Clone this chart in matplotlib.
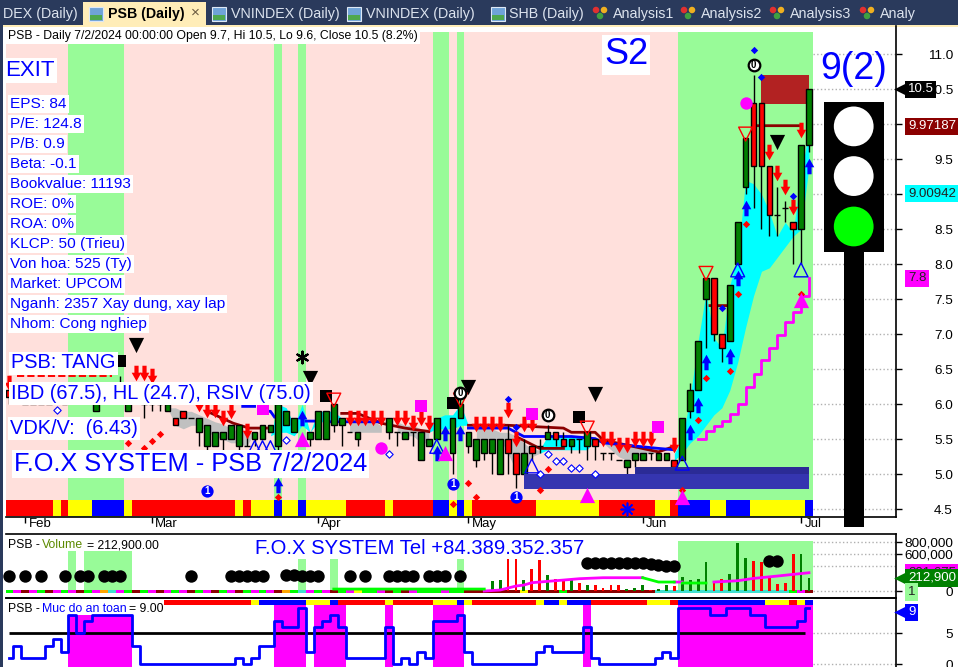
import numpy as np
import matplotlib
matplotlib.use('Agg')
import matplotlib.pyplot as plt
from matplotlib.path import Path
from matplotlib.patches import Rectangle
from matplotlib.transforms import ScaledTranslation

plt.rcParams['font.family'] = ['Liberation Sans', 'DejaVu Sans']

W, H = 958, 667
BLUE = '#0000FF'
MAGENTA = '#FF00FF'
PALEGREEN = '#98FB98'
PINK = '#FFE0DC'
DGREEN = '#008000'
DRED = '#8B0000'

# ---- price candles, one value per trading day (index 0 = Jan 30, 101 = Jul 2)
opens = [6.2,6.1,6.0,6.1,6.0,6.0,6.1,6.0,6.1,6.1,
         6.1,5.9,6.1,6.1,6.1,5.9,6.1,6.0,6.0,6.0,
         5.9,5.8,5.9,5.8,5.6,5.4,5.4,5.5,5.5,5.4,
         5.4,5.5,5.5,5.6,5.4,5.7,5.6,5.8,5.5,5.5,
         5.5,5.7,5.7,5.6,5.5,5.8,5.8,5.8,5.6,5.6,
         5.5,5.6,5.2,5.4,5.5,5.6,5.3,5.8,5.4,5.2,
         5.3,5.3,5.0,5.5,5.3,5.0,5.4,5.4,5.5,5.6,
         5.5,5.4,5.5,5.4,5.5,5.3,5.3,5.2,5.1,5.2,
         5.2,5.3,5.2,5.2,5.2,5.2,5.9,6.2,7.5,7.8,
         7.0,6.9,8.0,9.1,10.3,10.3,9.4,8.7,8.8,8.6,
         8.5,9.7]
closes = [6.1,6.1,6.1,6.0,6.0,6.1,6.1,6.1,6.2,6.2,
          6.2,6.2,6.2,6.2,6.3,6.1,6.2,6.0,6.0,6.0,
          6.0,5.7,5.8,5.8,5.8,5.7,5.6,5.6,5.7,5.7,
          5.4,5.6,5.7,5.7,6.0,5.9,5.8,5.8,5.6,5.9,
          5.9,6.0,5.8,5.6,5.6,5.8,5.8,5.8,5.8,5.6,
          5.6,5.6,5.6,5.5,5.8,5.6,5.8,6.0,5.6,5.5,
          5.5,5.5,5.5,5.3,5.0,5.3,5.3,5.4,5.6,5.5,
          5.4,5.5,5.5,5.6,5.4,5.3,5.3,5.2,5.2,5.3,
          5.3,5.3,5.3,5.3,5.1,5.8,6.2,6.9,7.8,7.0,
          6.8,7.7,8.6,9.8,9.4,9.4,8.7,8.7,8.8,8.5,
          9.7,10.5]
highs = [6.3,6.2,6.2,6.2,6.1,6.2,6.2,6.2,6.3,6.3,
         6.3,6.3,6.3,6.3,6.4,6.3,6.3,6.0,6.0,6.0,
         6.1,5.8,5.9,5.8,5.8,5.7,5.6,5.6,5.7,5.7,
         5.6,5.6,5.7,5.7,6.0,5.9,5.8,5.8,5.6,5.9,
         5.9,6.0,5.8,5.6,5.6,5.8,5.8,5.8,5.8,5.6,
         5.6,5.6,5.6,5.5,5.8,5.6,5.8,6.1,5.6,5.5,
         5.5,5.5,5.5,5.7,5.3,5.5,5.4,5.5,5.7,5.6,
         5.6,5.5,5.5,5.6,5.5,5.3,5.3,5.2,5.2,5.3,
         5.3,5.3,5.3,5.3,5.2,5.8,6.3,6.9,7.8,7.8,
         7.0,7.7,8.6,9.8,10.7,10.3,9.4,9.1,8.9,8.6,
         9.7,10.5]
lows = [6.0,6.0,6.0,6.0,6.0,6.0,6.0,6.0,6.0,6.0,
        6.0,5.9,6.0,6.0,6.0,5.9,6.0,5.8,5.9,5.9,
        5.9,5.7,5.8,5.8,5.4,5.3,5.4,5.3,5.5,5.3,
        5.4,5.4,5.5,5.6,5.2,5.7,5.6,5.8,5.4,5.5,
        5.5,5.6,5.4,5.6,5.4,5.8,5.8,5.8,5.5,5.4,
        5.5,5.4,5.2,5.4,5.5,5.6,5.0,5.8,5.3,5.1,
        5.2,5.0,5.0,5.0,4.8,5.0,5.2,5.3,5.5,5.4,
        5.4,5.3,5.3,5.2,5.2,5.2,5.2,5.2,5.0,5.1,
        5.2,5.2,5.2,5.2,5.1,5.2,5.8,6.2,6.8,6.9,
        6.6,6.9,8.0,9.0,8.8,8.5,8.4,8.4,8.6,8.0,
        8.0,9.6]

month_days = [2, 18, 39, 58, 80, 100]
month_names = ['Feb', 'Mar', 'Apr', 'May', 'Jun', 'Jul']
price_ticks = [4.5,5.0,5.5,6.0,6.5,7.0,7.5,8.0,8.5,9.0,9.5,10.0,10.5,11.0]

# background bands
bull_days = [8,9,10,11,12,13,14,34,37,54,55,57] + list(range(85, 102))

# colour strips as (colour, number of days)
main_strip = [('r',6),('y',1),('r',1),('y',3),('b',4),('y',1),('r',13),('y',1),('r',1),
              ('y',3),('b',1),('y',2),('b',1),('y',5),('r',5),('y',1),('r',5),('b',2),
              ('y',1),('b',1),('y',1),('r',8),('y',8),('r',7),('y',2),('r',1),('b',4),
              ('y',2),('b',3),('y',7),('b',1)]
safety_strip = [('r',11),('y',1),('b',6),('y',3),('b',1),('r',6),('y',1),('r',5),('y',3),
                ('b',1),('y',1),('r',8),('y',1),('b',2),('y',1),('b',3),('r',7),('y',3),
                ('r',1),('b',11),('y',3),('r',1),('y',1),('b',1)]
vol_strip = list('gmdmgdmgmdgmocmg' 'dgmdmgmdgmdgmdgmgmd' 'ogcmgmdgmyggmdgdmgggmg' 'g'
                 'ddddddd' 'y' 'dddd' 'g' 'ddddddddddd' 'ccccccccccccccccc')

# clouds behind the candles
cloud_days = [
    [20,21,22,23,24,25,26,27,28,29,30,31,32],
    [33,34,35,36,37,38,39,40,41,42],
    [43,44,45,46,47],
    [49,50,51,52,53],
    [53,54,55,56,57,58],
    [59,60,61,62,63,64,65,66,67],
    [67,68,69,70,71,72,73,74],
    [75,76,77,78,79,80,81,82],
    [84,85,86,87,88,89,90,91,92,93,94,95,96,97,98,99,100,101],
]
cloud_hi = [
    [5.95,5.95,5.9,5.9,5.85,5.8,5.75,5.72,5.65,5.62,5.6,5.6,5.6],
    [5.55,6.0,5.95,5.7,6.0,5.6,5.9,5.9,5.9,5.8],
    [5.8,5.8,5.75,5.75,5.7],
    [5.75,5.7,5.7,5.65,5.65],
    [5.7,5.8,5.85,5.85,6.0,5.7],
    [5.7,5.65,5.65,5.6,5.6,5.55,5.45,5.35,5.35],
    [5.35,5.55,5.55,5.55,5.55,5.55,5.55,5.5],
    [5.45,5.45,5.45,5.4,5.4,5.4,5.4,5.35],
    [5.3,5.5,6.1,6.9,7.6,6.95,6.8,7.7,8.1,9.2,9.15,9.0,8.75,8.4,8.6,8.45,9.3,9.9],
]
cloud_lo = [
    [5.95,5.7,5.65,5.7,5.7,5.6,5.55,5.5,5.45,5.45,5.4,5.6,5.6],
    [5.55,5.6,5.6,5.55,5.7,5.6,5.75,5.75,5.75,5.8],
    [5.6,5.6,5.6,5.6,5.6],
    [5.6,5.55,5.55,5.45,5.45],
    [5.6,5.65,5.65,5.65,5.7,5.7],
    [5.5,5.5,5.5,5.5,5.3,5.05,5.05,5.25,5.3],
    [5.3,5.35,5.35,5.35,5.35,5.35,5.35,5.5],
    [5.45,5.35,5.25,5.2,5.25,5.3,5.3,5.3],
    [5.2,5.3,5.45,5.55,5.7,5.85,5.95,6.2,6.6,7.1,7.55,7.9,7.95,8.1,8.25,8.4,8.5,9.4],
]
cloud_cols = ['#C0C0C0','#00FFFF','#C0C0C0','#C0C0C0','#00FFFF','#C0C0C0','#00FFFF','#C0C0C0','#00FFFF']

# lines on the price panel (nan = gap)
mid_x = [25,28.3,30.3,32.5,np.nan,42,44,47,50,53,np.nan,58,63,70,71,74,75,82,84,np.nan,
         64,67,70,np.nan,88.5,91,np.nan,94.5,100]
mid_y = [5.9,5.73,5.66,5.66,np.nan,5.87,5.87,5.73,5.66,5.61,np.nan,5.7,5.7,5.66,5.6,5.6,5.49,5.32,5.4,np.nan,
         5.54,5.37,5.37,np.nan,7.41,7.41,np.nan,9.98,9.98]
ma_x = [29.5,31,np.nan,32,33,33.5,np.nan,37.5,39,np.nan,40,47,np.nan,58,63,64,65,71,74,75,82,84]
ma_y = [5.97,5.97,np.nan,5.9,5.9,5.82,np.nan,5.76,5.76,np.nan,5.75,5.75,np.nan,5.66,5.66,5.6,5.54,5.54,5.51,5.45,5.37,5.35]
stop_days = list(range(87, 102))
stop_vals = [5.5,5.62,5.69,5.76,5.86,6.0,6.24,6.43,6.63,6.81,6.99,7.17,7.32,7.55,7.8]

# boxes: left day, right day, low, high
box_left = [65, 79, 95]
box_right = [101, 101, 101]
box_low = [4.79, 5.0, 10.29]
box_high = [5.0, 5.1, 10.7]
box_cols = ['#3535B0', '#2B2B96', '#B22222']

# signals on the price panel
down_red_x = [0,16,17,18,24,25,26,27,28,30,43,44,45,46,47,49,50,51,52,53,59,60,61,62,63,64,65,66,75,76,77,78,79,80,81,84,96,97,98,99,100]
down_red_y = [6.3,6.44,6.44,6.4,6.0,5.92,5.92,5.81,5.9,5.62,5.81,5.81,5.81,5.81,5.81,5.81,5.81,5.73,5.81,5.73,5.72,5.72,5.72,5.72,5.92,5.51,5.72,5.72,5.51,5.51,5.42,5.42,5.51,5.51,5.51,5.42,9.61,9.31,9.11,8.82,9.92]
up_blue_x = [34,37,54,55,57,86,87,88,91,92,93,101]
up_blue_y = [4.85,5.8,5.3,5.59,5.59,5.6,5.99,6.6,6.69,7.8,8.8,9.4]
red_dia_x = [15,17,18,19,34,56,58,59,67,68,85,87,88,91,92,93,100]
red_dia_y = [5.45,5.38,5.48,5.57,4.68,4.57,4.88,4.68,4.77,5.08,4.78,5.78,6.38,6.48,7.58,8.57,7.58]
blue_dia_x = [63,64,66,90,94,95,99]
blue_dia_y = [6.07,5.67,5.86,7.37,11.06,10.67,8.97]
open_dia_x = [6,35,48,67,68,69,70,71,72,74]
open_dia_y = [5.92,5.49,5.29,5.0,5.29,5.19,5.19,5.09,5.09,5.0]
black_tri_x = [16,38,58,74,97]
black_tri_y = [6.85,6.37,6.24,6.14,9.74]
black_sq_x = [14,40,56,72]
black_sq_y = [6.62,6.12,6.02,5.82]
hollow_red_x = [41,57,73,88,93]
hollow_red_y = [6.06,6.06,5.66,7.87,9.86]
hollow_blue_x = [31,32,33,54,66,85,92,100]
hollow_blue_y = [5.38,5.38,5.38,5.4,5.12,5.16,7.92,7.92]
mag_tri_x = [37,55,73,85,100]
mag_tri_y = [5.51,5.31,4.7,4.68,7.49]
mag_sq_x = [32,52,66,82]
mag_sq_y = [5.93,5.97,5.86,5.67]
mag_dot_x = [47,93]
mag_dot_y = [5.38,10.3]
one_x = [25,56,64]
one_y = [4.76,4.86,4.67]
zero_x = [57,68,94]
zero_y = [6.16,5.85,10.85]

info_lines = ['EPS: 84','P/E: 124.8','P/B: 0.9','Beta: -0.1','Bookvalue: 11193','ROE: 0%','ROA: 0%',
              'KLCP: 50 (Trieu)','Von hoa: 525 (Ty)','Market: UPCOM','Nganh: 2357 Xay dung, xay lap','Nhom: Cong nghiep']

# ---- volume panel
vol_days = list(range(61, 102))
volumes = [162e3,178e3,518e3,518e3,178e3,356e3,502e3,259e3,189e3,162e3,178e3,135e3,97e3,97e3,43e3,97e3,97e3,
           32e3,43e3,97e3,16e3,32e3,97e3,81e3,232e3,178e3,194e3,470e3,124e3,194e3,275e3,783e3,535e3,486e3,
           470e3,243e3,113e3,135e3,600e3,600e3,212.9e3]
vol_ma_days = [60,62,64,65,66,68,70,72,75,80]
vol_ma = [0,16e3,81e3,97e3,135e3,157e3,178e3,200e3,216e3,216e3]
vol_ma_green_days = [41,50,60,np.nan,80,82,84,np.nan,85,88]
vol_ma_green = [32e3,32e3,32e3,np.nan,216e3,146e3,146e3,np.nan,130e3,130e3]
vol_ma_late_days = [84,85,np.nan,89,92,94,97,101]
vol_ma_late = [146e3,146e3,np.nan,146e3,167e3,205e3,243e3,297e3]
dot_days = [0,2,4,7,9,10,12,13,14,23,28,29,30,31,32,35,36,37,38,39,43,45,48,49,50,51,53,54,55,57]
dot_vals = [243e3]*15 + [265e3,260e3,243e3,243e3,243e3] + [243e3]*10
dot_days2 = [73,74,75,76,77,78,79,80,81,82,83,84,96,97]
dot_vals2 = [449e3,449e3,449e3,455e3,455e3,455e3,455e3,455e3,440e3,420e3,405e3,405e3,481e3,481e3]
vol_band_days = [8,10,11,12,13,14,15,37,41,57] + list(range(85, 102))
vol_band_top = [648e3]*7 + [518e3]*3 + [810e3]*17
vol_ticks = [0, 600000, 800000]

# ---- safety level panel
safety = [1,3,1,1,1,3,4,2,8,5,7,8,8,8,8,8,3,0,0,0,0,0,0,0,0,0,0,0,0,1,0,1,3,3,7,6,6,9,2,6,7,8,6,1,1,1,1,1,6,0,1,0,2,1,
          7,7,7,8,2,0,0,0,0,0,0,0,0,2,3,2,2,2,2,6,1,0,0,0,0,0,0,0,1,2,1,9,9,9,9,8,8,9,9,9,8,8,6,6,6,6,7,9]
risk_days = [8,9,10,11,12,13,14,15,34,35,36,37,39,40,41,42,48,54,55,56,57,73] + list(range(85, 102))
risk_top = [7.95]*8 + [9.56]*14 + [9.56]*17
safety_ticks = [0, 5]


def px_axes(fig, left, top, right, bottom):
    return fig.add_axes([left / W, 1 - bottom / H, (right - left) / W, (bottom - top) / H])


def run_colors(runs, table):
    cols = []
    for c, n in runs:
        cols += [table[c]] * n
    return cols


def label(x, y, s, size, color=BLUE, box=True, **kw):
    if box:
        kw['bbox'] = dict(fc='white', ec='none', pad=1.5)
    return fig.text(x / W, 1 - (y + 1) / H, s, fontsize=size, color=color, va='center', zorder=20, **kw)


def tag(a, value, s, fc, tc, head=False, size=9.5):
    # value box right of the axis, sits at the series' last value
    a.text(TAG_X, value, s, color=tc, fontsize=size, va='center', clip_on=False, zorder=12,
           bbox=dict(boxstyle='square,pad=0.2', fc=fc, ec='none'))
    if head:
        a.scatter([HEAD_X], [value], marker='<', s=112, c=fc, lw=0, clip_on=False, zorder=12)


TAG_X = (908 - 9.08) / 7.92
HEAD_X = (901.5 - 9.08) / 7.92

strip_table = {'r': '#FF0000', 'y': '#FFFF00', 'b': '#0000FF'}
vol_table = {'g': '#00FF00', 'm': MAGENTA, 'd': DRED, 'o': '#FFA500', 'c': '#40E0D0', 'y': '#FFFF00'}

down_arrow = Path([(-0.27,1),(0.27,1),(0.27,0.1),(0.62,0.1),(0,-1),(-0.62,0.1),(-0.27,0.1),(-0.27,1)], closed=True)
up_arrow = Path([(-0.27,-1),(0.27,-1),(0.27,-0.1),(0.62,-0.1),(0,1),(-0.62,-0.1),(-0.27,-0.1),(-0.27,-1)], closed=True)

fig = plt.figure(figsize=(W / 100, H / 100), dpi=100, facecolor='white')

# window frame and tabs
chrome = px_axes(fig, 0, 0, W, H)
chrome.set_xlim(0, W)
chrome.set_ylim(H, 0)
chrome.axis('off')
chrome.add_patch(Rectangle((0, 0), W, 26, fc='#2A3A5C', ec='none'))
chrome.add_patch(Rectangle((0, 0), 3, H, fc='#2A3A5C', ec='none'))
chrome.add_patch(Rectangle((3, 25), W, 2, fc='#FFEDB8', ec='none'))
chrome.add_patch(Rectangle((83, 2), 123, 24, fc='#FFEDB8', ec='none'))
for x0 in [89, 212, 347, 491]:
    chrome.add_patch(Rectangle((x0, 7), 14, 14, fc='#6FA3D8', ec='#DDE8F5', lw=0.8))
    chrome.add_patch(Rectangle((x0 + 1, 15), 12, 5, fc='#4FA84F', ec='none'))
for x0 in [594, 682, 771, 861]:
    chrome.scatter([x0 + 2, x0 + 10, x0 + 6], [10, 10, 16], s=[22, 22, 22], c=['#E03030', '#F0B020', '#40A040'], lw=0)
tab_names = ['DEX (Daily)', 'VNINDEX (Daily)', 'VNINDEX (Daily)', 'SHB (Daily)', 'Analysis1', 'Analysis2', 'Analysis3', 'Analy']
tab_x = [3, 231, 366, 509, 613, 701, 790, 880]
for x0, name in zip(tab_x, tab_names):
    label(x0, 13, name, 10.3, color='#DCE3EE', box=False)
label(108, 13, 'PSB (Daily)', 10.2, color='black', box=False, fontweight='bold')
label(191, 12, '\u00d7', 11, color='#6A5A40', box=False)

# ---- price panel
ax = px_axes(fig, 6, 26, 896, 517)
days = np.arange(len(closes))
xlim = (-0.389, 111.99)
ax.set_xlim(xlim)
ax.set_ylim(4.39, 11.404)
ax.patch.set_alpha(0)

band_cols = [PALEGREEN if d in bull_days else PINK for d in days]
ax.bar(days, 11.32 - 4.39, width=1.0, bottom=4.39, color=band_cols, lw=0, zorder=0)
ax.bar(days, 0.228, width=1.0, bottom=4.404, color=run_colors(main_strip, strip_table), lw=0, zorder=1)

for d, hi, lo, col in zip(cloud_days, cloud_hi, cloud_lo, cloud_cols):
    ax.fill_between(d, lo, hi, color=col, lw=0, zorder=1.5)

ax.plot(mid_x, mid_y, color=DRED, lw=2, zorder=2)
ax.plot(ma_x, ma_y, color=BLUE, lw=2, zorder=2)
ax.step(stop_days, stop_vals, where='post', color=MAGENTA, lw=2, zorder=2)
ax.hlines(6.4, 1, 13, color='#FF0000', lw=1.4, linestyles='--', zorder=2)

o = np.array(opens)
c = np.array(closes)
ax.bar(box_left[2], box_high[2] - box_low[2], width=box_right[2] - box_left[2], bottom=box_low[2],
       align='edge', color=box_cols[2], lw=0, zorder=2.5)
ax.vlines(days, lows, highs, color='black', lw=1, zorder=3)
ax.bar(days, np.abs(c - o), width=0.72, bottom=np.minimum(o, c), color=[DGREEN if cl > op else '#FF0000' for op, cl in zip(o, c)],
       edgecolor='black', lw=1, zorder=3.2)
for i in range(2):
    ax.bar(box_left[i], box_high[i] - box_low[i], width=box_right[i] - box_left[i], bottom=box_low[i],
           align='edge', color=box_cols[i], lw=0, zorder=4)

ax.scatter(down_red_x, down_red_y, marker=down_arrow, s=125, c='#FF0000', lw=0, zorder=6)
ax.scatter(up_blue_x, up_blue_y, marker=up_arrow, s=125, c=BLUE, lw=0, zorder=6)
ax.scatter(red_dia_x, red_dia_y, marker='D', s=14, c='#FF0000', lw=0, zorder=6)
ax.scatter(blue_dia_x, blue_dia_y, marker='D', s=14, c=BLUE, lw=0, zorder=6)
ax.scatter(open_dia_x, open_dia_y, marker='D', s=14, facecolors='white', edgecolors=BLUE, lw=0.8, zorder=6)
ax.scatter(black_tri_x, black_tri_y, marker='v', s=120, c='black', lw=0, zorder=6)
ax.scatter(black_sq_x, black_sq_y, marker='s', s=75, c='black', lw=0, zorder=6)
ax.scatter(hollow_red_x, hollow_red_y, marker='v', s=100, facecolors='none', edgecolors='#FF0000', lw=1, zorder=6)
ax.scatter(hollow_blue_x, hollow_blue_y, marker='^', s=100, facecolors='none', edgecolors=BLUE, lw=1, zorder=6)
ax.scatter(mag_tri_x, mag_tri_y, marker='^', s=120, c=MAGENTA, lw=0, zorder=6)
ax.scatter(mag_sq_x, mag_sq_y, marker='s', s=80, c=MAGENTA, lw=0, zorder=6)
ax.scatter(mag_dot_x, mag_dot_y, marker='o', s=80, c=MAGENTA, lw=0, zorder=6)
ax.scatter([37], [6.67], marker=(6, 2, 0), s=70, c='black', lw=1.6, zorder=6)
ax.scatter([78], [4.5], marker=(8, 2, 0), s=80, c=BLUE, lw=1.2, zorder=6)
ax.scatter(one_x, one_y, marker='o', s=78, c=BLUE, lw=0, zorder=6)
for x0, y0 in zip(one_x, one_y):
    ax.text(x0, y0, '1', color='white', fontsize=7, fontweight='bold', ha='center', va='center', zorder=7)
ax.scatter(zero_x, zero_y, marker='o', s=70, facecolors='white', edgecolors='black', lw=1.6, zorder=6)
for x0, y0 in zip(zero_x, zero_y):
    ax.text(x0, y0, '0', color='black', fontsize=7, fontweight='bold', ha='center', va='center', zorder=7)

# grid only shows right of the last bar
ax.hlines(price_ticks, 101.5, xlim[1], color='#B0B0B0', lw=1, linestyles=':', zorder=0.5)

# traffic light
ax.bar(105.4, 11 - (252 - 54.3) / 70 - 4.25, width=2.52, bottom=4.25, align='edge', color='black', lw=0, zorder=8, clip_on=False)
ax.bar(102.9, 150 / 70, width=7.57, bottom=11 - (252 - 54.3) / 70, align='edge', color='black', lw=0, zorder=8)
ax.scatter([106.65] * 3, [9.97, 9.26, 8.54], s=820, c=['white', 'white', '#00FF00'], lw=0, zorder=9)

ax.set_xticks(month_days)
ax.set_xticklabels(month_names, ha='left', fontsize=9.5)
ax.tick_params(axis='x', length=4, width=1, pad=-3, color='black')
for lab in ax.get_xticklabels():
    lab.set_transform(lab.get_transform() + ScaledTranslation(2.5 / 72, 0, fig.dpi_scale_trans))
ax.yaxis.tick_right()
ax.set_yticks(price_ticks)
ax.set_yticklabels(['%.1f' % t for t in price_ticks], ha='right', fontsize=9.7)
ax.tick_params(axis='y', direction='out', length=4, width=1, pad=37)
for s in ['top', 'left']:
    ax.spines[s].set_visible(False)
ax.spines['bottom'].set_linewidth(1.2)
ax.spines['right'].set_linewidth(1.2)

tag(ax, 10.5, '10.5', 'black', 'white', head=True)
tag(ax, 9.97187, '9.97187', DRED, 'white')
tag(ax, 9.00942, '9.00942', '#00FFFF', '#222222')
tag(ax, 7.8, '7.8', MAGENTA, '#222222')

# ---- volume panel
av = px_axes(fig, 6, 534, 896, 598)
av.set_xlim(xlim)
av.set_ylim(-113e3, 925e3)
av.patch.set_alpha(0)
av.bar(vol_band_days, vol_band_top, width=1.0, color=PALEGREEN, lw=0, zorder=0)
av.bar(days, 43e3, width=1.0, bottom=-27e3, color=[vol_table[k] for k in vol_strip], lw=0, zorder=1)
vcols = [DGREEN if c[d] > o[d] else '#FF0000' for d in vol_days]
av.bar(vol_days, volumes, width=0.36, color=vcols, lw=0, zorder=2)
av.plot(vol_ma_days, vol_ma, color=MAGENTA, lw=2, zorder=3)
av.plot(vol_ma_late_days, vol_ma_late, color=MAGENTA, lw=2, zorder=3)
av.plot(vol_ma_green_days, vol_ma_green, color='#00FF00', lw=2, zorder=3)
av.scatter(dot_days + dot_days2, dot_vals + dot_vals2, s=80, c='black', lw=0, zorder=4, clip_on=False)
av.hlines(vol_ticks + [400000], 101.5, xlim[1], color='#B0B0B0', lw=1, linestyles=':', zorder=0.5)
av.set_xticks([])
av.yaxis.tick_right()
av.set_yticks(vol_ticks)
av.set_yticklabels(['0', '600,000', '800,000'], ha='right', fontsize=9.7)
av.tick_params(axis='y', length=4, width=1, pad=37)
av.spines['left'].set_visible(False)
for s in ['top', 'bottom', 'right']:
    av.spines[s].set_linewidth(1.2)
tag(av, 301675, '301,675', MAGENTA, '#222222')
tag(av, 212900, '212,900', DGREEN, 'white', head=True)
tag(av, -16e3, '1', PALEGREEN, '#222222')

# ---- safety panel
al = px_axes(fig, 6, 598, 896, 667)
al.set_xlim(xlim)
al.set_ylim(-0.44, 10.69)
al.patch.set_alpha(0)
al.bar(risk_days, np.array(risk_top) + 0.44, width=1.0, bottom=-0.44, color=MAGENTA, lw=0, zorder=0)
al.bar(days[20:], 0.85, width=1.0, bottom=9.56, color=run_colors(safety_strip, strip_table), lw=0, zorder=1)
al.hlines(5, 0, 100.5, color='black', lw=2, zorder=2)
al.step(days, safety, where='mid', color=BLUE, lw=2, zorder=3)
al.hlines([0, 5], 101.5, xlim[1], color='#B0B0B0', lw=1, linestyles=':', zorder=0.5)
al.set_xticks([])
al.yaxis.tick_right()
al.set_yticks(safety_ticks)
al.set_yticklabels(['0', '5'], ha='right', fontsize=9.7)
al.tick_params(axis='y', length=4, width=1, pad=37)
for s in ['left', 'bottom']:
    al.spines[s].set_visible(False)
al.spines['top'].set_linewidth(1.2)
al.spines['right'].set_linewidth(1.2)
tag(al, 8.4, '9', BLUE, 'white', head=True)

# ---- text over the chart
label(8, 35, 'PSB - Daily 7/2/2024 00:00:00 Open 9.7, Hi 10.5, Lo 9.6, Close 10.5 (8.2%)', 8.8, color='black')
label(5, 69, 'EXIT', 16)
for n, line in enumerate(info_lines):
    label(10, 103 + 20 * n, line, 11.1)
label(11, 362, 'PSB: TANG', 14.4)
label(11, 392.5, 'IBD (67.5), HL (24.7), RSIV (75.0)', 14.4)
label(10, 427.5, 'VDK/V:  (6.43)', 14.4)
label(14, 463, 'F.O.X SYSTEM - PSB 7/2/2024', 18.3)
label(604, 54, 'S2', 26)
label(820, 68, '9(2)', 27, box=False)
label(255, 548, 'F.O.X SYSTEM Tel +84.389.352.357', 14.6, box=False)
label(8, 544, 'PSB - ', 8.8, color='black', box=False)
label(42, 544, 'Volume', 8.8, color='#5C8A00', box=False)
label(87, 544, '= 212,900.00', 8.8, color='black', box=False)
label(8, 608, 'PSB - ', 8.8, color='black', box=False)
label(42, 608, 'Muc do an toan', 8.8, color=BLUE, box=False)
label(129, 608, '= 9.00', 8.8, color='black', box=False)

fig.savefig('out.png', dpi=100)
